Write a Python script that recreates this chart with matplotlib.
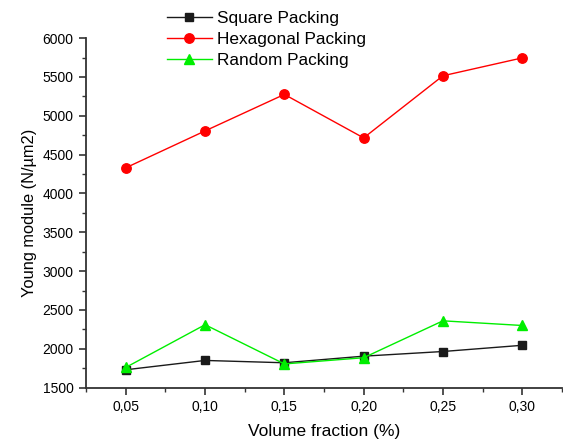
import numpy as np
import matplotlib
matplotlib.use("Agg")
import matplotlib.pyplot as plt
from matplotlib.ticker import MultipleLocator, FuncFormatter

plt.rcParams['font.family'] = ['Liberation Sans', 'DejaVu Sans']

volume_fraction = [0.05, 0.10, 0.15, 0.20, 0.25, 0.30]
square = [1730, 1850, 1820, 1905, 1965, 2045]
hexagonal = [4330, 4805, 5275, 4715, 5515, 5745]
random_pk = [1760, 2310, 1805, 1885, 2360, 2300]

fig = plt.figure(figsize=(5.63, 4.43), dpi=100)
ax = fig.add_axes([0.153, 0.125, 0.845, 0.789])

ax.plot(volume_fraction, square, color='#1a1a1a', lw=1.0, marker='s', ms=5.8,
        label='Square Packing')
ax.plot(volume_fraction, hexagonal, color='#ff0000', lw=1.0, marker='o', ms=6.8,
        label='Hexagonal Packing')
ax.plot(volume_fraction, random_pk, color='#00ee00', lw=1.0, marker='^', ms=7.2,
        label='Random Packing')

ax.set_xlim(0.025, 0.325)
ax.set_ylim(1500, 6000)
ax.xaxis.set_major_locator(MultipleLocator(0.05))
ax.xaxis.set_minor_locator(MultipleLocator(0.025))
ax.yaxis.set_major_locator(MultipleLocator(500))
ax.yaxis.set_minor_locator(MultipleLocator(250))
ax.xaxis.set_major_formatter(FuncFormatter(lambda v, p: f"{v:.2f}".replace('.', ',')))

ax.spines['top'].set_visible(False)
ax.spines['right'].set_visible(False)
for s in ('left', 'bottom'):
    ax.spines[s].set_linewidth(1.3)
    ax.spines[s].set_color('#333333')

ax.tick_params(which='major', direction='out', length=5, width=1.2, labelsize=10,
               colors='#333333', labelcolor='black', pad=4)
ax.tick_params(which='minor', direction='out', length=3, width=1.0, colors='#333333')

ax.set_xlabel('Volume fraction (%)', fontsize=12.5, labelpad=7)
ax.set_ylabel('Young module (N/µm2)', fontsize=11.8, labelpad=4)

ax.legend(loc='upper left', bbox_to_anchor=(0.17, 1.078), frameon=False,
          fontsize=12.4, handlelength=2.6, handletextpad=0.3, labelspacing=0.36,
          borderaxespad=0, borderpad=0)

fig.savefig('out.png', dpi=100)
